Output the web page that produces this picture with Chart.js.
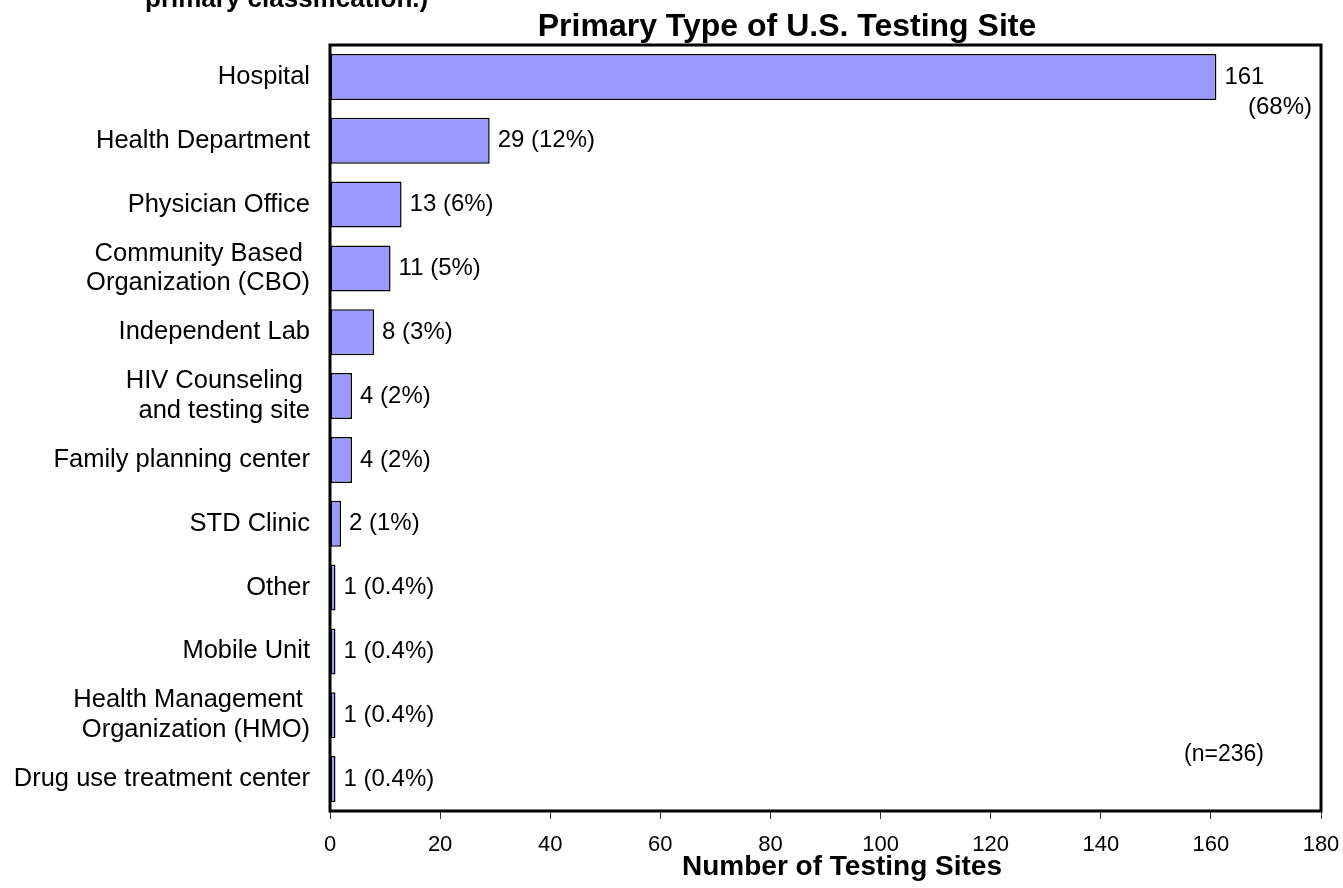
<!DOCTYPE html>
<html>
<head>
<meta charset="utf-8">
<title>Primary Type of U.S. Testing Site</title>
<script src="https://cdn.jsdelivr.net/npm/chart.js@4.4.1/dist/chart.umd.min.js"></script>
<style>
  html, body { margin: 0; padding: 0; background: #fff; overflow: hidden; }
  #wrap { position: relative; width: 1343px; height: 888px; }
</style>
</head>
<body>
<div id="wrap"><canvas id="site-canvas" width="1343" height="888"></canvas></div>
<script>
// site type categories, top to bottom
const SITE_TYPES = [
  'Hospital',
  'Health Department',
  'Physician Office',
  ['Community Based ', 'Organization (CBO)'],
  'Independent Lab',
  ['HIV Counseling ', 'and testing site'],
  'Family planning center',
  'STD Clinic',
  'Other',
  'Mobile Unit',
  ['Health Management ', 'Organization (HMO)'],
  'Drug use treatment center'
];
const SITE_COUNTS = [161, 29, 13, 11, 8, 4, 4, 2, 1, 1, 1, 1];
const SITE_PERCENTS = ['68%', '12%', '6%', '5%', '3%', '2%', '2%', '1%', '0.4%', '0.4%', '0.4%', '0.4%'];
const X_TICKS = [0, 20, 40, 60, 80, 100, 120, 140, 160, 180];
const TOTAL_SITES = 236;

const FONT = '"Liberation Sans", Arial, Helvetica, sans-serif';

// frame around plot area + value labels + free texts
var annotatePlugin = {
  id: 'annotate',
  afterDatasetsDraw: function(chart) {
    var ctx = chart.ctx;
    var area = chart.chartArea;
    var meta = chart.getDatasetMeta(0);

    ctx.save();
    ctx.fillStyle = '#000';
    ctx.font = '24px ' + FONT;
    ctx.textBaseline = 'middle';
    meta.data.forEach(function(bar, i) {
      var text = SITE_COUNTS[i] + ' (' + SITE_PERCENTS[i] + ')';
      var lx = bar.x + 8;
      ctx.textAlign = 'left';
      // long bar: label wraps inside the frame
      if (lx + ctx.measureText(text).width > area.right - 6) {
        ctx.fillText(String(SITE_COUNTS[i]), lx, bar.y);
        ctx.textAlign = 'right';
        ctx.fillText('(' + SITE_PERCENTS[i] + ')', area.right - 9, bar.y + 30);
      } else {
        ctx.fillText(text, lx, bar.y);
      }
    });

    ctx.font = '23px ' + FONT;
    ctx.textAlign = 'center';
    ctx.fillText('(n=' + TOTAL_SITES + ')', area.right - 97, area.bottom - 56);

    ctx.strokeStyle = '#000';
    ctx.lineWidth = 3;
    ctx.strokeRect(area.left, area.top, area.right - area.left, area.bottom - area.top);
    ctx.restore();
  },
  afterDraw: function(chart) {
    var ctx = chart.ctx;
    ctx.save();
    ctx.fillStyle = '#000';
    ctx.textBaseline = 'alphabetic';

    ctx.font = 'bold 26px ' + FONT;
    ctx.textAlign = 'left';
    ctx.fillText('primary classification.)', 145, 7);

    ctx.font = 'bold 32px ' + FONT;
    ctx.textAlign = 'center';
    ctx.fillText('Primary Type of U.S. Testing Site', 787, 36);

    ctx.font = 'bold 28px ' + FONT;
    ctx.fillText('Number of Testing Sites', 842, 875);
    ctx.restore();
  }
};

var ctx = document.getElementById('site-canvas').getContext('2d');
var chart = new Chart(ctx, {
  type: 'bar',
  data: {
    labels: SITE_TYPES,
    datasets: [{
      data: SITE_COUNTS,
      backgroundColor: '#9999FF',
      borderColor: '#000',
      borderWidth: 1.5,
      borderSkipped: false,
      barPercentage: 0.72,
      categoryPercentage: 1
    }]
  },
  options: {
    indexAxis: 'y',
    responsive: false,
    animation: false,
    layout: {
      padding: { top: 45, right: 22, left: 0, bottom: 0 }
    },
    scales: {
      x: {
        type: 'linear',
        min: 0,
        max: 180,
        afterBuildTicks: function(scale) {
          scale.ticks = X_TICKS.map(function(v) { return { value: v }; });
        },
        afterFit: function(scale) {
          scale.height = 77;
          // let layout padding alone decide the right edge
          scale.paddingLeft = 0;
          scale.paddingRight = 0;
        },
        grid: {
          display: true,
          drawOnChartArea: false,
          drawTicks: true,
          tickLength: 8,
          color: '#333',
          lineWidth: 1
        },
        border: { display: false },
        ticks: {
          color: '#000',
          padding: 13,
          maxRotation: 0,
          font: { family: FONT, size: 22 }
        }
      },
      y: {
        afterFit: function(scale) {
          scale.width = 330;
        },
        grid: { display: false, drawTicks: false },
        border: { display: false },
        ticks: {
          color: '#000',
          padding: 20,
          autoSkip: false,
          font: { family: FONT, size: 25.5, lineHeight: 1.17 }
        }
      }
    },
    plugins: {
      legend: { display: false },
      title: { display: false },
      tooltip: { enabled: false }
    }
  },
  plugins: [annotatePlugin]
});
</script>
</body>
</html>
